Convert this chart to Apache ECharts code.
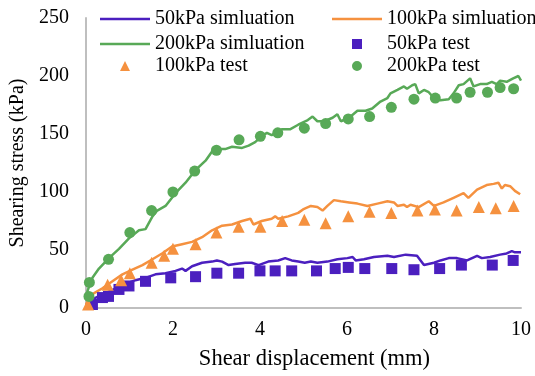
<!DOCTYPE html>
<html>
<head>
<meta charset="utf-8">
<script src="https://cdn.jsdelivr.net/npm/echarts@6/dist/echarts.min.js"></script>
<style>html,body{margin:0;padding:0;background:#fff}#c{width:535px;height:376px}</style>
</head>
<body>
<div id="c"></div>
<script>
// ---- data ----
const seriesNames = ['50kPa simluation','100kPa simluation','200kPa simluation','50kPa test','100kPa test','200kPa test'];
const xTicks = [0,2,4,6,8,10];
const yTicks = [0,50,100,150,200,250];

const sim50X = [0,0.23,0.46,0.69,0.92,1.14,1.37,1.6,1.83,2.06,2.21,2.29,2.44,2.67,2.9,3.01,3.13,3.28,3.43,3.66,3.81,3.97,4.19,4.42,4.58,4.73,4.88,5.03,5.17,5.32,5.55,5.78,6.01,6.13,6.2,6.39,6.62,6.93,7.08,7.35,7.61,7.77,8.0,8.15,8.34,8.53,8.76,8.99,9.1,9.29,9.52,9.67,9.79,9.86,10.0];
const sim50Y = [2,9,13,17,21,24,26,29,30,32,34,32,36,39,40,41,40,37,38,39,39,37,40,41,43,41,40,39,40,39,40,42,43,44,41,42,44,45,44,46,45,37,39,41,43,43,41,45,43,44,46,47,49,48,48];

const sim100X = [0,0.15,0.38,0.61,0.84,1.07,1.3,1.53,1.75,1.98,2.21,2.44,2.67,2.9,3.13,3.36,3.59,3.78,3.85,4.04,4.27,4.35,4.42,4.65,4.88,4.99,5.17,5.32,5.44,5.55,5.7,5.86,6.05,6.24,6.47,6.7,6.93,7.08,7.16,7.31,7.38,7.46,7.65,7.88,8.0,8.22,8.45,8.68,8.79,8.99,9.21,9.37,9.48,9.56,9.63,9.75,9.86,9.98];
const sim100Y = [3,12,17,23,29,33,37,42,47,53,55,57,61,67,71,72,75,77,72,75,77,79,77,79,82,85,88,87,84,88,93,92,91,90,88,90,92,91,88,89,87,89,87,92,88,91,95,99,95,102,106,107,108,103,106,105,101,98];

const sim200X = [0,0.04,0.15,0.3,0.53,0.76,0.99,1.22,1.37,1.53,1.64,1.83,2.06,2.29,2.52,2.75,2.94,3.2,3.36,3.59,3.74,3.89,4.04,4.16,4.27,4.5,4.69,4.88,5.1,5.21,5.32,5.48,5.67,5.78,5.86,6.05,6.24,6.43,6.58,6.77,6.93,7.0,7.16,7.31,7.38,7.5,7.57,7.65,7.77,7.88,8.0,8.15,8.34,8.45,8.57,8.68,8.83,8.91,9.06,9.21,9.33,9.44,9.52,9.67,9.82,9.94,10.0];
const sim200Y = [8,15,26,34,43,51,60,67,68,79,84,88,99,108,119,127,137,137,139,138,140,143,148,151,149,154,154,158,162,165,161,161,164,167,161,164,170,170,172,178,181,185,188,191,189,192,193,185,188,186,181,179,180,185,192,193,198,191,193,193,195,193,196,195,198,200,196];

const test50X = [0.15,0.38,0.52,0.76,0.99,1.37,1.95,2.52,3.01,3.51,4.0,4.35,4.73,5.3,5.73,6.03,6.41,7.03,7.54,8.13,8.63,9.34,9.82];
const test50Y = [3,9,10,16,19,23,26,27,30,30,32,32,32,32,34,35,34,34,33,34,37,37,41];

const test100X = [0.05,0.5,0.81,1.01,1.51,1.8,2.0,2.52,3.0,3.51,4.01,4.51,5.02,5.51,6.03,6.52,7.02,7.62,8.02,8.52,9.03,9.42,9.83];
const test100Y = [3,20,24,30,39,45,51,55,65,70,70,75,76,73,79,83,82,84,85,84,87,86,88];

const test200X = [0.07,0.08,0.52,1.01,1.51,2.0,2.5,3.0,3.52,4.01,4.41,5.02,5.51,6.03,6.52,7.02,7.54,8.03,8.52,8.83,9.23,9.52,9.83];
const test200Y = [10,22,42,65,84,100,118,136,145,148,151,155,159,163,165,173,180,181,181,186,186,190,189];

// ---- build ----
const zip = (xs, ys) => xs.map((x, i) => [x, ys[i]]);
const colors = { c50: '#4B1FBF', c100: '#F5913F', c200: '#58A957' };
const font = 'Liberation Serif';

// legend icons: 50x10 boxes (corner specks fix the bounding box)
const specks = ' M0,0 L0.01,0 L0.01,0.01 Z M49.99,9.99 L50,9.99 L50,10 Z';
const icons = {
  line: 'path://M0,3.75 L50,3.75 L50,6.25 L0,6.25 Z' + specks,
  rect: 'path://M20,0 L30,0 L30,10 L20,10 Z' + specks,
  triangle: 'path://M25,0 L30,10 L20,10 Z' + specks,
  circle: 'path://M20,5 A5,5 0 1,0 30,5 A5,5 0 1,0 20,5 Z' + specks
};

function lineSeries(name, xs, ys, color) {
  return { name, type: 'line', data: zip(xs, ys), symbol: 'none', showSymbol: false,
    lineStyle: { color, width: 2.5 }, itemStyle: { color }, z: 2 };
}
function scatterSeries(name, xs, ys, color, symbol, size) {
  return { name, type: 'scatter', data: zip(xs, ys), symbol, symbolSize: size,
    itemStyle: { color, opacity: 1 }, z: 3 };
}

function legendAt(name, icon, color, left, top) {
  return { data: [{ name, icon, itemStyle: { color } }], left, top, padding: 0,
    itemWidth: 50, itemHeight: 10, itemGap: 0, selectedMode: false,
    itemStyle: { color, borderWidth: 0 }, lineStyle: { width: 0 },
    textStyle: { fontFamily: font, fontSize: 20, color: '#000', lineHeight: 20 } };
}

const chart = echarts.init(document.getElementById('c'), null, { renderer: 'canvas' });
chart.setOption({
  animation: false,
  backgroundColor: '#fff',
  legend: [
    legendAt(seriesNames[0], icons.line, colors.c50, 100, 9),
    legendAt(seriesNames[1], icons.line, colors.c100, 332, 9),
    legendAt(seriesNames[2], icons.line, colors.c200, 100, 34),
    legendAt(seriesNames[3], icons.rect, colors.c50, 332, 34),
    legendAt(seriesNames[4], icons.triangle, colors.c100, 100, 56),
    legendAt(seriesNames[5], icons.circle, colors.c200, 332, 56)
  ],
  grid: { left: 84, right: 14, top: 18, bottom: 62, containLabel: false },
  xAxis: {
    type: 'value', min: xTicks[0], max: xTicks[xTicks.length - 1], interval: 2,
    name: 'Shear displacement (mm)', nameLocation: 'middle', nameGap: 40,
    nameTextStyle: { fontFamily: font, fontSize: 22.5, color: '#000', padding: [0, 0, 0, 22] },
    axisLine: { show: true, lineStyle: { color: '#BFBFBF', width: 2 } },
    axisTick: { show: false }, splitLine: { show: false },
    axisLabel: { fontFamily: font, fontSize: 20, color: '#000', margin: 12 }
  },
  yAxis: {
    type: 'value', min: yTicks[0], max: yTicks[yTicks.length - 1], interval: 50,
    name: 'Shearing stress (kPa)', nameLocation: 'middle', nameGap: 49, nameRotate: 90,
    nameTextStyle: { fontFamily: font, fontSize: 20, color: '#000' },
    axisLine: { show: true, lineStyle: { color: '#BFBFBF', width: 2 } },
    axisTick: { show: false }, splitLine: { show: false },
    axisLabel: { fontFamily: font, fontSize: 20, color: '#000', margin: 17 }
  },
  series: [
    lineSeries(seriesNames[0], sim50X, sim50Y, colors.c50),
    lineSeries(seriesNames[1], sim100X, sim100Y, colors.c100),
    lineSeries(seriesNames[2], sim200X, sim200Y, colors.c200),
    scatterSeries(seriesNames[3], test50X, test50Y, colors.c50, 'rect', 11),
    scatterSeries(seriesNames[4], test100X, test100Y, colors.c100, 'triangle', 12),
    scatterSeries(seriesNames[5], test200X, test200Y, colors.c200, 'circle', 11)
  ]
});
</script>
</body>
</html>
